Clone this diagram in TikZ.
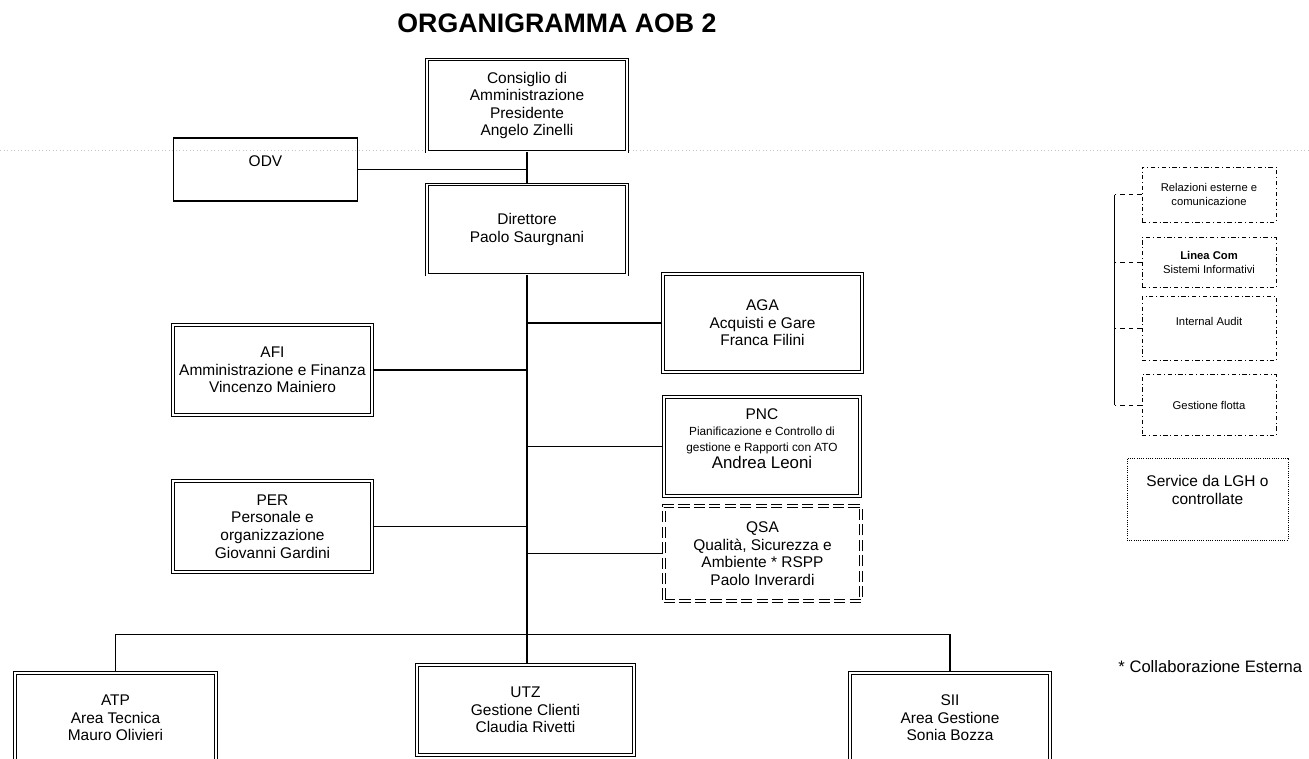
\documentclass[tikz,border=0pt]{standalone}
\usepackage{fontspec}
\setmainfont{Liberation Sans}
\usetikzlibrary{positioning}

\begin{document}
\begin{tikzpicture}[x=0.025cm, y=-0.025cm, node distance=0.3cm]
    % Define styles
    \tikzstyle{office} = [rectangle, draw=black, double, double distance=1.4pt, line width=0.7pt, fill=white, inner sep=2pt, align=center, font=\fontsize{11}{12.5}\selectfont]
    \tikzstyle{staff} = [rectangle, draw=black, line width=0.9pt, align=center, font=\fontsize{11}{12.5}\selectfont]
    \tikzstyle{advisor} = [rectangle, draw=black, line width=0.6pt, dash dot, minimum width=3.35cm, align=center, font=\fontsize{8}{10}\selectfont]
    \tikzstyle{service} = [rectangle, draw=black, line width=0.6pt, densely dotted, minimum width=4.025cm, minimum height=2.05cm, align=center, font=\fontsize{11}{13}\selectfont]
    \tikzstyle{wire} = [line width=0.9pt]
    \tikzstyle{stub} = [line width=0.6pt, dashed]

    \useasboundingbox (0,0) rectangle (1309,758);
    \clip (0,0) rectangle (1309,758);
    \draw[gray!45, dotted, line width=0.5pt] (0,150) -- (1309,150);

    % Nodes
    \node[font=\bfseries\fontsize{19}{21}\selectfont] (title) at (557,23) {ORGANIGRAMMA AOB 2};
    \node[office, minimum width=5.0cm, minimum height=2.3cm] (cda) at (527,105.5) {Consiglio di\\Amministrazione\\Presidente\\Angelo Zinelli};
    \node[staff, minimum width=4.6cm, minimum height=1.58cm] (odv) at (265.5,169.5) {ODV\\~};
    \node[office, minimum width=5.0cm, minimum height=2.25cm] (dir) at (527,229.5) {Direttore\\Paolo Saurgnani};
    \node[office, minimum width=4.98cm, minimum height=2.45cm] (aga) at (762.5,323) {AGA\\Acquisti e Gare\\Franca Filini};
    \node[office, minimum width=4.98cm, minimum height=2.26cm] (afi) at (272.5,370) {AFI\\Amministrazione e Finanza\\Vincenzo Mainiero};
    \node[office, minimum width=4.9cm, minimum height=2.48cm, font=\fontsize{11}{11.5}\selectfont] (pnc) at (762,446.5) {PNC\\{\fontsize{8.4}{10}\selectfont Pianificazione e Controllo di}\\{\fontsize{8.4}{10}\selectfont gestione e Rapporti con ATO}\\{\fontsize{12}{14}\selectfont Andrea Leoni}\\~};
    \node[office, minimum width=4.98cm, minimum height=2.28cm] (per) at (272.5,526.5) {PER\\Personale e\\organizzazione\\Giovanni Gardini};
    \node[office, dash pattern=on 8pt off 3pt, minimum width=4.93cm, minimum height=2.38cm] (qsa) at (762.5,553.5) {QSA\\Qualità, Sicurezza e\\Ambiente * RSPP\\Paolo Inverardi};
    \node[office, minimum width=5.03cm, minimum height=2.26cm] (atp) at (115.5,718) {ATP\\Area Tecnica\\Mauro Olivieri};
    \node[office, minimum width=5.43cm, minimum height=2.26cm] (utz) at (525.5,710) {UTZ\\Gestione Clienti\\Claudia Rivetti};
    \node[office, minimum width=5.0cm, minimum height=2.26cm] (sii) at (950,718) {SII\\Area Gestione\\Sonia Bozza};

    \node[advisor, minimum height=1.375cm] (rel) at (1209,194.5) {Relazioni esterne e\\comunicazione};
    \node[advisor, minimum height=1.25cm, below=0.375cm of rel] (lin) {\textbf{Linea Com}\\Sistemi Informativi};
    \node[advisor, minimum height=1.6cm, below=0.2cm of lin] (aud) {Internal Audit\\~};
    \node[advisor, minimum height=1.525cm, below=0.325cm of aud] (flo) {Gestione flotta};
    \node[service] (svc) at (1207.5,499) {Service da LGH o\\controllate\\~};
    \node[anchor=east, font=\fontsize{11.8}{13}\selectfont] (note) at (1307,667) {* Collaborazione Esterna};

    % Arrows
    \draw[wire] (cda) -- (dir);
    \draw[wire] (odv.east) -- (odv.east -| cda.south);
    \draw[wire] (dir.south) -- (dir.south |- utz.north);
    \draw[wire] (aga.west) -- (aga.west -| dir.south);
    \draw[wire] (afi.east) -- (afi.east -| dir.south);
    \draw[wire] (pnc.west) -- (pnc.west -| dir.south);
    \draw[wire] (per.east) -- (per.east -| dir.south);
    \draw[wire] (qsa.west) -- (qsa.west -| dir.south);
    \draw[wire] (atp.north) -- ++(0,-38) -| (sii.north);

    \draw[stub] (rel.west) -- ++(-27,0) coordinate (b1);
    \draw[stub] (lin.west) -- ++(-27,0) coordinate (b2);
    \draw[stub] (aud.west) -- ++(-27,0) coordinate (b3);
    \draw[stub] (flo.west) -- ++(-27,0) coordinate (b4);
    \draw[line width=0.6pt] (b1) -- (b4);
\end{tikzpicture}
\end{document}
